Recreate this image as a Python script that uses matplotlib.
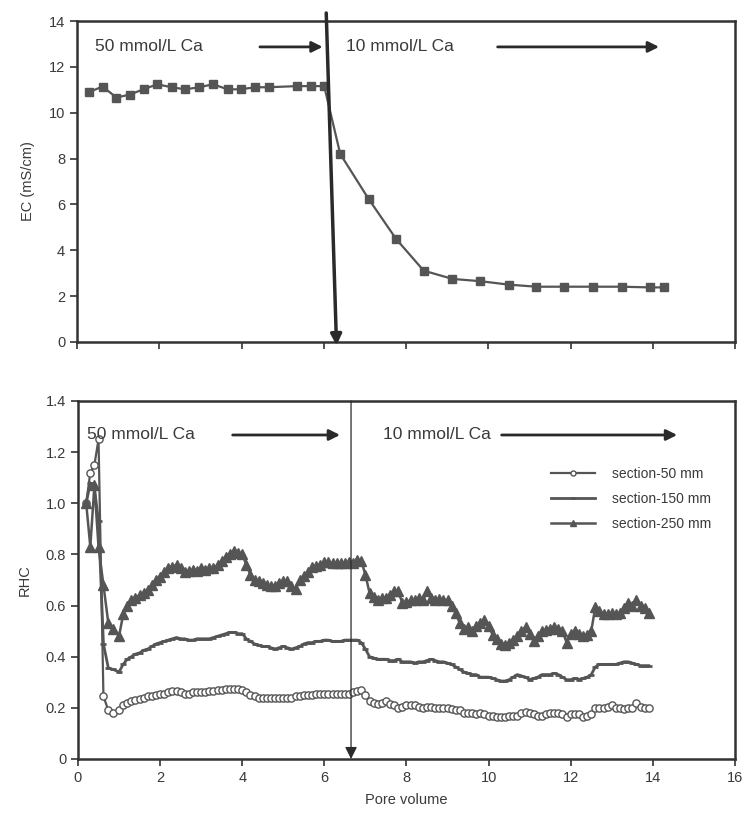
import matplotlib
matplotlib.use("Agg")
import matplotlib.pyplot as plt

plt.rcParams["font.family"] = ["Liberation Sans", "DejaVu Sans"]

# --- top panel: EC ---
ec_pv = [0.28, 0.62, 0.96, 1.28, 1.63, 1.95, 2.30, 2.63, 2.97, 3.31, 3.66, 3.98, 4.33, 4.66,
         5.34, 5.69, 6.01, 6.40, 7.09, 7.76, 8.43, 9.13, 9.81, 10.50, 11.17, 11.84, 12.55,
         13.24, 13.93, 14.28]
ec_val = [10.89, 11.14, 10.66, 10.79, 11.03, 11.24, 11.11, 11.02, 11.11, 11.24, 11.02, 11.02,
          11.11, 11.11, 11.16, 11.16, 11.16, 8.20, 6.24, 4.49, 3.11, 2.75, 2.65, 2.50, 2.41,
          2.41, 2.41, 2.41, 2.38, 2.38]

# --- bottom panel: RHC ---
rhc_pv = [0.2, 0.3, 0.4, 0.5, 0.62, 0.74, 0.86,
          1.0, 1.1, 1.2, 1.3, 1.4, 1.5, 1.6, 1.7, 1.8, 1.9,
          2.0, 2.1, 2.2, 2.3, 2.4, 2.5, 2.6, 2.7, 2.8, 2.9,
          3.0, 3.1, 3.2, 3.3, 3.4, 3.5, 3.6, 3.7, 3.8, 3.9,
          4.0, 4.1, 4.2, 4.3, 4.4, 4.5, 4.6, 4.7, 4.8, 4.9,
          5.0, 5.1, 5.2, 5.3, 5.4, 5.5, 5.6, 5.7, 5.8, 5.9,
          6.0, 6.1, 6.2, 6.3, 6.4, 6.5, 6.6, 6.7, 6.8, 6.9,
          7.0, 7.1, 7.2, 7.3, 7.4, 7.5, 7.6, 7.7, 7.8, 7.9,
          8.0, 8.1, 8.2, 8.3, 8.4, 8.5, 8.6, 8.7, 8.8, 8.9,
          9.0, 9.1, 9.2, 9.3, 9.4, 9.5, 9.6, 9.7, 9.8, 9.9,
          10.0, 10.1, 10.2, 10.3, 10.4, 10.5, 10.6, 10.7, 10.8, 10.9,
          11.0, 11.1, 11.2, 11.3, 11.4, 11.5, 11.6, 11.7, 11.8, 11.9,
          12.0, 12.1, 12.2, 12.3, 12.4, 12.5, 12.6, 12.7, 12.8, 12.9,
          13.0, 13.1, 13.2, 13.3, 13.4, 13.5, 13.6, 13.7, 13.8, 13.9]

rhc_50 = [1.00, 1.12, 1.15, 1.25, 0.245, 0.19, 0.18,
          0.19, 0.21, 0.22, 0.225, 0.23, 0.235, 0.24, 0.245, 0.245, 0.25,
          0.255, 0.255, 0.26, 0.265, 0.265, 0.26, 0.255, 0.255, 0.26, 0.26,
          0.26, 0.26, 0.265, 0.265, 0.27, 0.27, 0.275, 0.275, 0.275, 0.275,
          0.27, 0.26, 0.25, 0.245, 0.24, 0.24, 0.237, 0.237, 0.237, 0.24,
          0.24, 0.237, 0.24, 0.245, 0.245, 0.25, 0.25, 0.25, 0.255, 0.255,
          0.255, 0.255, 0.255, 0.255, 0.255, 0.255, 0.255, 0.26, 0.265, 0.27,
          0.25, 0.225, 0.22, 0.215, 0.22, 0.225, 0.215, 0.21, 0.20, 0.205,
          0.21, 0.21, 0.21, 0.205, 0.20, 0.205, 0.205, 0.20, 0.20, 0.20,
          0.20, 0.195, 0.19, 0.19, 0.18, 0.18, 0.18, 0.175, 0.18, 0.175,
          0.17, 0.17, 0.165, 0.165, 0.165, 0.17, 0.17, 0.17, 0.18, 0.185,
          0.18, 0.175, 0.17, 0.17, 0.175, 0.18, 0.18, 0.18, 0.175, 0.165,
          0.175, 0.175, 0.175, 0.165, 0.17, 0.175, 0.20, 0.20, 0.20, 0.205,
          0.21, 0.20, 0.20, 0.195, 0.20, 0.20, 0.22, 0.205, 0.20, 0.20]

rhc_150 = [1.00, 1.08, 1.06, 0.93, 0.45, 0.355, 0.35,
           0.34, 0.37, 0.39, 0.40, 0.41, 0.415, 0.425, 0.43, 0.44, 0.45,
           0.455, 0.46, 0.465, 0.47, 0.475, 0.47, 0.47, 0.465, 0.465, 0.47,
           0.47, 0.47, 0.47, 0.475, 0.48, 0.485, 0.49, 0.495, 0.495, 0.49,
           0.49, 0.47, 0.46, 0.45, 0.445, 0.44, 0.44, 0.435, 0.43, 0.435,
           0.44, 0.435, 0.43, 0.435, 0.44, 0.45, 0.455, 0.455, 0.46, 0.46,
           0.465, 0.465, 0.46, 0.46, 0.46, 0.465, 0.465, 0.465, 0.465, 0.455,
           0.43, 0.40, 0.395, 0.39, 0.39, 0.39, 0.385, 0.385, 0.39, 0.38,
           0.38, 0.38, 0.375, 0.38, 0.38, 0.385, 0.39, 0.385, 0.38, 0.38,
           0.375, 0.37, 0.36, 0.35, 0.34, 0.335, 0.33, 0.33, 0.32, 0.32,
           0.32, 0.315, 0.31, 0.305, 0.305, 0.31, 0.32, 0.33, 0.325, 0.32,
           0.31, 0.315, 0.32, 0.33, 0.33, 0.33, 0.335, 0.33, 0.32, 0.31,
           0.31, 0.315, 0.31, 0.315, 0.32, 0.33, 0.36, 0.37, 0.37, 0.37,
           0.37, 0.37, 0.375, 0.38, 0.38, 0.375, 0.37, 0.365, 0.365, 0.365]

rhc_250 = [1.00, 0.83, 1.07, 0.83, 0.68, 0.53, 0.51,
           0.48, 0.565, 0.60, 0.62, 0.63, 0.64, 0.65, 0.66, 0.68, 0.70,
           0.71, 0.73, 0.745, 0.75, 0.76, 0.745, 0.73, 0.735, 0.74, 0.735,
           0.745, 0.74, 0.745, 0.745, 0.76, 0.775, 0.79, 0.80, 0.815, 0.805,
           0.80, 0.76, 0.72, 0.70, 0.695, 0.69, 0.68, 0.675, 0.675, 0.69,
           0.695, 0.695, 0.675, 0.665, 0.70, 0.715, 0.73, 0.75, 0.755, 0.76,
           0.77, 0.77, 0.765, 0.765, 0.765, 0.765, 0.77, 0.765, 0.78, 0.775,
           0.72, 0.65, 0.635, 0.62, 0.63, 0.63, 0.64, 0.655, 0.655, 0.61,
           0.615, 0.62, 0.62, 0.63, 0.62, 0.655, 0.63, 0.62, 0.625, 0.62,
           0.62, 0.60, 0.57, 0.53, 0.51, 0.515, 0.50, 0.52, 0.53, 0.545,
           0.52, 0.485, 0.47, 0.45, 0.445, 0.455, 0.465, 0.48, 0.50, 0.515,
           0.49, 0.46, 0.48, 0.50, 0.505, 0.51, 0.515, 0.51, 0.50, 0.455,
           0.49, 0.50, 0.49, 0.48, 0.485, 0.50, 0.595, 0.58, 0.565, 0.565,
           0.57, 0.565, 0.57, 0.59, 0.61, 0.60, 0.62, 0.60, 0.59, 0.57]

series_labels = ["section-50 mm", "section-150 mm", "section-250 mm"]
ec_ticks = [0, 2, 4, 6, 8, 10, 12, 14]
rhc_ticks = [0, 0.2, 0.4, 0.6, 0.8, 1.0, 1.2, 1.4]
pv_ticks = [0, 2, 4, 6, 8, 10, 12, 14, 16]

LINE = "#555555"
INK = "#2a2a2a"
TXT = "#3a3a3a"

fig = plt.figure(figsize=(7.42, 8.14), dpi=100)
ax1 = fig.add_axes([0.1038, 0.5799, 0.8868, 0.3943])
ax2 = fig.add_axes([0.1051, 0.0676, 0.8854, 0.4398])

for ax in (ax1, ax2):
    for sp in ax.spines.values():
        sp.set_color("#333333")
        sp.set_linewidth(1.8)
    ax.tick_params(direction="out", length=5, width=1.2, color="#333333",
                   labelsize=10.5, labelcolor=TXT)
    ax.set_xlim(0, 16)
    ax.set_xticks(pv_ticks)

# top panel
ax1.plot(ec_pv, ec_val, color=LINE, lw=1.6, marker="s", ms=5.8, mfc=LINE, mec=LINE, zorder=3)
ax1.set_ylim(0, 14)
ax1.set_yticks(ec_ticks)
ax1.set_xticklabels([])
ax1.set_ylabel("EC (mS/cm)", fontsize=10.5, color=TXT, labelpad=10)

ax1.text(0.44, 12.87, "50 mmol/L Ca", fontsize=12.5, color=TXT, va="center")
ax1.annotate("", xy=(6.04, 12.87), xytext=(4.38, 12.87),
             arrowprops=dict(arrowstyle="-|>", color=INK, lw=2, mutation_scale=16))
ax1.text(6.53, 12.87, "10 mmol/L Ca", fontsize=12.5, color=TXT, va="center")
ax1.annotate("", xy=(14.22, 12.87), xytext=(10.16, 12.87),
             arrowprops=dict(arrowstyle="-|>", color=INK, lw=2, mutation_scale=16))
ax1.annotate("", xy=(6.31, -0.15), xytext=(6.06, 14.35),
             arrowprops=dict(arrowstyle="-|>", color=INK, lw=2.5, mutation_scale=16,
                             shrinkA=0, shrinkB=0), annotation_clip=False)

# bottom panel
ax2.plot(rhc_pv, rhc_50, color=LINE, lw=1.6, marker="o", ms=5.2, mfc="white", mec=LINE,
         mew=1.0, label=series_labels[0], zorder=3)
ax2.plot(rhc_pv, rhc_150, color=LINE, lw=2.0, marker="_", ms=5, mew=2.0,
         label=series_labels[1], zorder=3)
ax2.plot(rhc_pv, rhc_250, color=LINE, lw=1.8, marker="^", ms=7, mfc=LINE, mec=LINE,
         label=series_labels[2], zorder=3)
ax2.set_ylim(0, 1.4)
ax2.set_yticks(rhc_ticks)
ax2.set_yticklabels(["0" if t == 0 else f"{t:.1f}" for t in rhc_ticks])
ax2.set_xticklabels([str(t) for t in pv_ticks])
ax2.set_ylabel("RHC", fontsize=10.5, color=TXT, labelpad=10)
ax2.set_xlabel("Pore volume", fontsize=10.5, color=TXT, labelpad=6)

ax2.text(0.22, 1.267, "50 mmol/L Ca", fontsize=12.5, color=TXT, va="center")
ax2.annotate("", xy=(6.45, 1.267), xytext=(3.70, 1.267),
             arrowprops=dict(arrowstyle="-|>", color=INK, lw=2, mutation_scale=16))
ax2.text(7.43, 1.267, "10 mmol/L Ca", fontsize=12.5, color=TXT, va="center")
ax2.annotate("", xy=(14.66, 1.267), xytext=(10.25, 1.267),
             arrowprops=dict(arrowstyle="-|>", color=INK, lw=2, mutation_scale=16))
ax2.annotate("", xy=(6.65, 0.0), xytext=(6.65, 1.4),
             arrowprops=dict(arrowstyle="-|>", color=INK, lw=0.9, mutation_scale=18,
                             shrinkA=0, shrinkB=0))

ax2.legend(loc="upper left", bbox_to_anchor=(0.72, 0.816), frameon=False, fontsize=10,
           labelcolor=TXT, handlelength=3.2, handletextpad=1.2, labelspacing=0.8,
           markerscale=0.7, borderpad=0, borderaxespad=0)

fig.savefig("out.png", dpi=100)
